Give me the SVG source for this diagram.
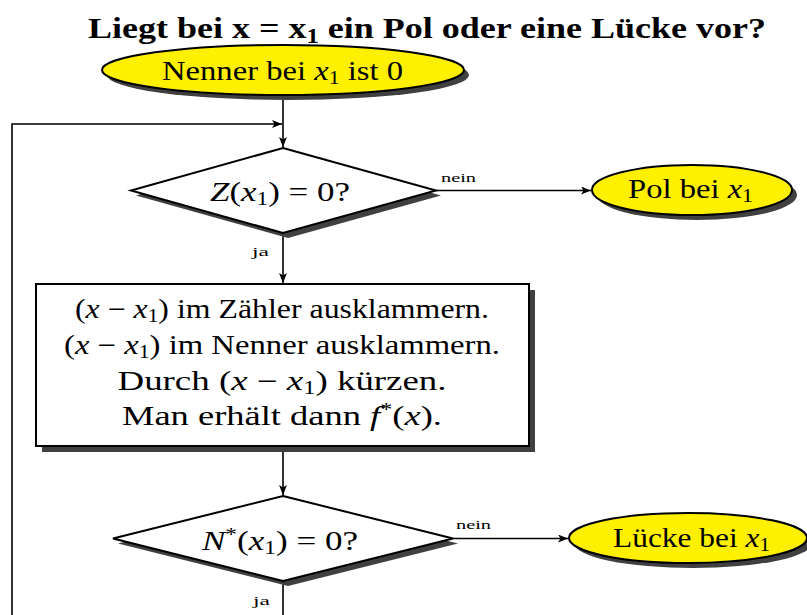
<svg xmlns="http://www.w3.org/2000/svg" width="807" height="615" viewBox="0 0 807 615">
<defs>
<marker id="arr" viewBox="0 0 10 8" refX="10" refY="4" markerWidth="10" markerHeight="8" markerUnits="userSpaceOnUse" orient="auto"><path d="M0,0 L10,4 L0,8 L2.5,4 Z" fill="#000"/></marker>
</defs>
<style>
.t{font-family:"Liberation Serif","DejaVu Serif",serif;fill:#000}
.n{font-size:27px}
.s{font-size:13px}
.i{font-style:italic}
.sub{font-size:18px}
.sh{fill:#404040}
.ell{fill:#fff000;stroke:#000;stroke-width:2}
.box{fill:#fff;stroke:#000;stroke-width:2}
.c{fill:none;stroke:#000;stroke-width:1.6}
</style>
<rect width="807" height="615" fill="#fff"/>
<text class="t" x="427" y="38" font-size="29" font-weight="bold" text-anchor="middle" textLength="678" lengthAdjust="spacingAndGlyphs">Liegt bei x = x<tspan font-size="20" dy="5">1</tspan><tspan dy="-5"> ein Pol oder eine Lücke vor?</tspan></text>

<g id="connectors">
<path class="c" d="M283,95 V147" marker-end="url(#arr)"/>
<path class="c" d="M12,615 V124 H282" marker-end="url(#arr)"/>
<path class="c" d="M436,190.5 H591" marker-end="url(#arr)"/>
<path class="c" d="M283,233 V283" marker-end="url(#arr)"/>
<path class="c" d="M283,446 V495" marker-end="url(#arr)"/>
<path class="c" d="M453,538.5 H568" marker-end="url(#arr)"/>
<path class="c" d="M283,581 V615"/>
<text class="t s" x="441" y="182" textLength="35" lengthAdjust="spacingAndGlyphs">nein</text>
<text class="t s" x="252" y="256" textLength="17" lengthAdjust="spacingAndGlyphs">ja</text>
<text class="t s" x="456" y="529" textLength="35" lengthAdjust="spacingAndGlyphs">nein</text>
<text class="t s" x="253" y="605" textLength="17" lengthAdjust="spacingAndGlyphs">ja</text>
</g>

<g id="start">
<ellipse class="sh" cx="288" cy="75" rx="181" ry="25"/>
<ellipse class="ell" cx="283" cy="70" rx="181" ry="25"/>
<text class="t n" x="282.5" y="80" text-anchor="middle" textLength="241" lengthAdjust="spacingAndGlyphs">Nenner bei <tspan class="i">x</tspan><tspan class="sub" dy="4">1</tspan><tspan dy="-4"> ist 0</tspan></text>
</g>

<g id="decision1">
<polygon class="sh" points="288,153 441,195.5 288,238 136,195.5"/>
<polygon class="box" points="283,148 436,190.5 283,233 131,190.5"/>
<text class="t n" x="280" y="201" text-anchor="middle" textLength="140" lengthAdjust="spacingAndGlyphs"><tspan class="i">Z</tspan>(<tspan class="i">x</tspan><tspan class="sub" dy="4">1</tspan><tspan dy="-4">) = 0?</tspan></text>
</g>

<g id="pol">
<ellipse class="sh" cx="697" cy="195" rx="100" ry="25"/>
<ellipse class="ell" cx="692" cy="190" rx="100" ry="25"/>
<text class="t n" x="690.5" y="198" text-anchor="middle" textLength="125" lengthAdjust="spacingAndGlyphs">Pol bei <tspan class="i">x</tspan><tspan class="sub" dy="4">1</tspan></text>
</g>

<g id="process">
<rect class="sh" x="42" y="290" width="493" height="162"/>
<rect class="box" x="36" y="284" width="493" height="162"/>
<text class="t n" x="282" y="318" text-anchor="middle" textLength="414" lengthAdjust="spacingAndGlyphs">(<tspan class="i">x</tspan> − <tspan class="i">x</tspan><tspan class="sub" dy="4">1</tspan><tspan dy="-4">) im Zähler ausklammern.</tspan></text>
<text class="t n" x="282" y="354" text-anchor="middle" textLength="436" lengthAdjust="spacingAndGlyphs">(<tspan class="i">x</tspan> − <tspan class="i">x</tspan><tspan class="sub" dy="4">1</tspan><tspan dy="-4">) im Nenner ausklammern.</tspan></text>
<text class="t n" x="282" y="390" text-anchor="middle" textLength="329" lengthAdjust="spacingAndGlyphs">Durch (<tspan class="i">x</tspan> − <tspan class="i">x</tspan><tspan class="sub" dy="4">1</tspan><tspan dy="-4">) kürzen.</tspan></text>
<text class="t n" x="282" y="425" text-anchor="middle" textLength="320" lengthAdjust="spacingAndGlyphs">Man erhält dann <tspan class="i">f</tspan><tspan class="sub" dy="-9">*</tspan><tspan dy="9">(</tspan><tspan class="i">x</tspan>).</text>
</g>

<g id="decision2">
<polygon class="sh" points="288,501 458,543.5 288,586 118,543.5"/>
<polygon class="box" points="283,496 453,538.5 283,581 113,538.5"/>
<text class="t n" x="280" y="550" text-anchor="middle" textLength="156" lengthAdjust="spacingAndGlyphs"><tspan class="i">N</tspan><tspan class="sub" dy="-9">*</tspan><tspan dy="9">(</tspan><tspan class="i">x</tspan><tspan class="sub" dy="4">1</tspan><tspan dy="-4">) = 0?</tspan></text>
</g>

<g id="luecke">
<ellipse class="sh" cx="693" cy="543" rx="119" ry="25"/>
<ellipse class="ell" cx="688" cy="538" rx="119" ry="25"/>
<text class="t n" x="691.5" y="547" text-anchor="middle" textLength="157" lengthAdjust="spacingAndGlyphs">Lücke bei <tspan class="i">x</tspan><tspan class="sub" dy="4">1</tspan></text>
</g>
</svg>
